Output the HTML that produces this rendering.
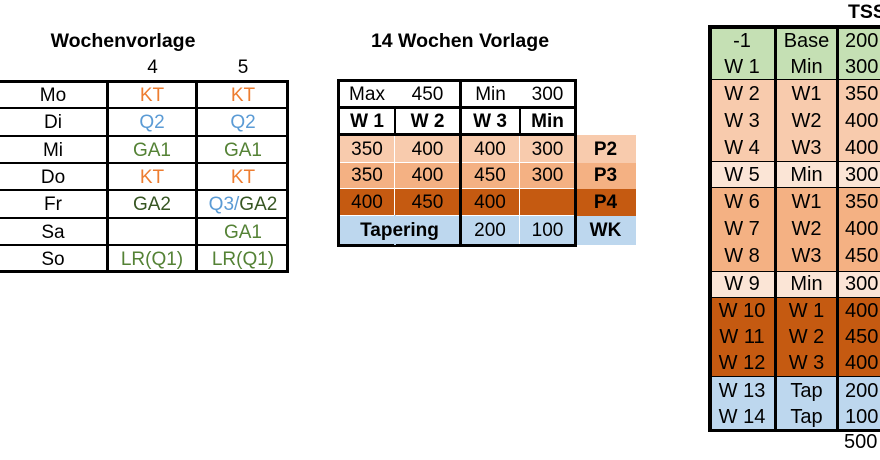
<!DOCTYPE html>
<html><head><meta charset="utf-8"><style>
body{margin:0;width:880px;height:460px;overflow:hidden;background:#fff;font-family:"Liberation Sans",sans-serif;font-size:19px;color:#000;position:relative}
.a{position:absolute;box-sizing:border-box}
.t{position:absolute;text-align:center;white-space:nowrap;line-height:27px}
.b{font-weight:bold}
.h{font-size:19.5px}
.rt{font-size:20px}
.or{color:#ED7D31}.bl{color:#5B9BD5}.gr{color:#548235}.dg{color:#375623}
</style></head><body>
<!-- Left table -->
<div class="t b h" style="left:33px;top:28px;width:180px">Wochenvorlage</div>
<div class="t" style="left:108px;top:54px;width:89px">4</div>
<div class="t" style="left:197px;top:54px;width:92px">5</div>
<div class="a" style="left:-3px;top:80px;width:292px;height:193px;border:3px solid #000"></div>
<div class="a" style="left:106px;top:80px;width:3px;height:193px;background:#000"></div>
<div class="a" style="left:195px;top:80px;width:3px;height:193px;background:#000"></div>
<!-- Middle table -->
<div class="t b h" style="left:345px;top:28px;width:230px">14 Wochen Vorlage</div>
<div class="a" style="left:339px;top:135px;width:236px;height:28px;background:#F8CBAD"></div>
<div class="a" style="left:339px;top:163px;width:236px;height:26px;background:#F4B183"></div>
<div class="a" style="left:339px;top:189px;width:236px;height:27px;background:#C55A11"></div>
<div class="a" style="left:339px;top:216px;width:236px;height:29px;background:#BDD7EE"></div>
<div class="a" style="left:575px;top:135px;width:61px;height:28px;background:#F8CBAD"></div>
<div class="a" style="left:575px;top:163px;width:61px;height:26px;background:#F4B183"></div>
<div class="a" style="left:575px;top:189px;width:61px;height:27px;background:#C55A11"></div>
<div class="a" style="left:575px;top:216px;width:61px;height:29px;background:#BDD7EE"></div>
<div class="a" style="left:394px;top:135px;width:1px;height:110px;background:#fff"></div>
<div class="a" style="left:519px;top:135px;width:1px;height:110px;background:#fff"></div>
<div class="a" style="left:339px;top:162px;width:236px;height:1px;background:#fff"></div>
<div class="a" style="left:339px;top:188px;width:236px;height:1px;background:#fff"></div>
<div class="a" style="left:339px;top:215px;width:236px;height:1px;background:#fff"></div>
<div class="a" style="left:337px;top:79px;width:240px;height:168px;border:3px solid #000"></div>
<div class="a" style="left:459px;top:79px;width:3px;height:168px;background:#000"></div>
<div class="a" style="left:394px;top:108px;width:2px;height:27px;background:#000"></div>
<div class="a" style="left:519px;top:108px;width:2px;height:27px;background:#000"></div>
<div class="a" style="left:337px;top:106px;width:240px;height:3px;background:#000"></div>
<div class="a" style="left:337px;top:133px;width:240px;height:3px;background:#000"></div>
<div class="a" style="left:394px;top:215px;width:2px;height:30px;background:#BDD7EE"></div>
<!-- Right table -->
<div class="t b h" style="left:848px;top:-1px;width:40px;text-align:left">TSS</div>
<div class="t rt" style="left:837px;top:429px;width:50px;text-align:left;padding-left:7px">500</div>
<script>
function T(parent,x,y,w,txt,cls,name){var d=document.createElement('div');d.className='t '+(cls||'');d.style.left=x+'px';d.style.top=y+'px';d.style.width=w+'px';d.innerHTML=txt;


document.body.appendChild(d);return d;}
function R(x,y,w,h,bg,name){var d=document.createElement('div');d.className='a';d.style.cssText='left:'+x+'px;top:'+y+'px;width:'+w+'px;height:'+h+'px;background:'+bg;


document.body.appendChild(d);return d;}
var days=['Mo','Di','Mi','Do','Fr','Sa','So'];
var c4=['<span class="or">KT</span>','<span class="bl">Q2</span>','<span class="gr">GA1</span>','<span class="or">KT</span>','<span class="dg">GA2</span>','','<span class="gr">LR(Q1)</span>'];
var c5=['<span class="or">KT</span>','<span class="bl">Q2</span>','<span class="gr">GA1</span>','<span class="or">KT</span>','<span class="bl">Q3/</span><span class="dg">GA2</span>','<span class="gr">GA1</span>','<span class="gr">LR(Q1)</span>'];
for(var i=0;i<7;i++){var y=82+i*27.3;
T(null,0,y,106,days[i],'','day-label');T(null,108,y,88,c4[i],'','week4-cell');T(null,197,y,92,c5[i],'','week5-cell');
if(i>0)R(0,y-2,289,2,'#000','row-divider');}
T(null,342,81,50,'Max','','max-label');T(null,395,81,65,'450','','max-value');T(null,462,81,57,'Min','','min-label');T(null,520,81,55,'300','','min-value');
var hd=['W 1','W 2','W 3','Min'],xs=[339,395,460,520],ws=[56,65,60,55];
for(i=0;i<4;i++)T(null,xs[i],108,ws[i],hd[i],'b','week-header');
var rows=[['350','400','400','300'],['350','400','450','300'],['400','450','400','']],ys=[136,162,189],lab=['P2','P3','P4'];
for(var r=0;r<3;r++){for(i=0;i<4;i++)T(null,xs[i],ys[r],ws[i],rows[r][i],'','tss-cell');T(null,575,ys[r],61,lab[r],'b','phase-label');}
T(null,339,217,121,'Tapering','b','tapering-label');T(null,460,217,60,'200','','taper-w1');T(null,520,217,55,'100','','taper-w2');T(null,575,217,61,'WK','b','wk-label');
var segs=[[29,80,'#C5E0B4'],[80,162,'#F8CBAD'],[162,188,'#FBE5D6'],[188,272,'#F4B183'],[272,298,'#FBE5D6'],[298,377,'#C55A11'],[377,430,'#BDD7EE']];
segs.forEach(function(s){R(710,s[0],170,s[1]-s[0],s[2],'phase-block');R(708,s[1]-1,172,3,'#000','block-divider');});
R(708,25,172,4,'#000','table-top-border');R(708,25,4,407,'#000','table-left-border');
R(774,27,3,404,'#000','col-divider');R(836,27,3,404,'#000','col-divider');
var wk=['-1','W 1','W 2','W 3','W 4','W 5','W 6','W 7','W 8','W 9','W 10','W 11','W 12','W 13','W 14'];
var ty=['Base','Min','W1','W2','W3','Min','W1','W2','W3','Min','W 1','W 2','W 3','Tap','Tap'];
var tv=['200','300','350','400','400','300','350','400','450','300','400','450','400','200','100'];
var ry=[28,54,81,108,135,162,189,216,243,271,298,324,350,378,404];
for(i=0;i<15;i++){T(null,710,ry[i],64,wk[i],'rt','week-label');T(null,777,ry[i],59,ty[i],'rt','type-label');var d=T(null,839,ry[i],50,tv[i],'rt','tss-value');d.style.textAlign='left';d.style.paddingLeft='6px';}
</script>
</body></html>
